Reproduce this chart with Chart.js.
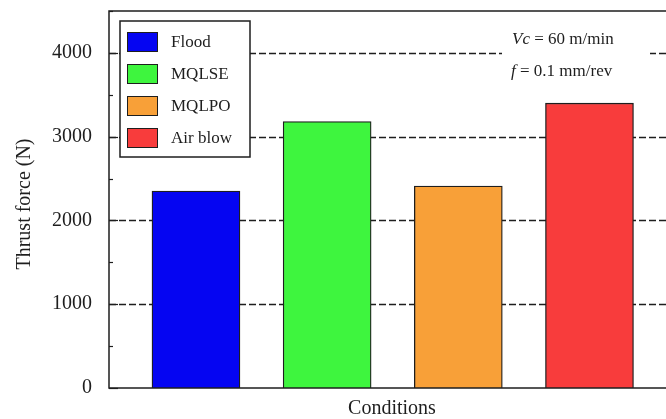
<!DOCTYPE html>
<html>
<head>
<meta charset="utf-8">
<script src="https://cdn.jsdelivr.net/npm/chart.js@4/dist/chart.umd.min.js"></script>
<style>
html,body{margin:0;padding:0;background:#fff;overflow:hidden;}
#wrap{width:666px;height:419px;overflow:hidden;position:relative;}
canvas{display:block;}
</style>
</head>
<body>
<div id="wrap"><canvas id="c" width="680" height="419" style="width:680px;height:419px"></canvas></div>
<script>
// ---- data ----
const categories = ['Flood', 'MQLSE', 'MQLPO', 'Air blow'];
const thrustForce = [2350, 3180, 2410, 3400];
const barColors = ['#0505f2', '#3ef53e', '#f8a038', '#f83c3c'];
const yTickValues = [0, 1000, 2000, 3000, 4000];
const yAxisTitle = 'Thrust force (N)';
const xAxisTitle = 'Conditions';
const noteLine1 = ['Vc', ' = 60 m/min'];
const noteLine2 = ['f', ' = 0.1 mm/rev'];

const SERIF = '"Liberation Serif", "DejaVu Serif", serif';
const INK = '#1e1e1e';

const decorPlugin = {
  id: 'decor',
  beforeDatasetsDraw(chart) {
    const ctx = chart.ctx, a = chart.chartArea, y = chart.scales.y;
    ctx.save();
    ctx.strokeStyle = INK;
    ctx.lineWidth = 1.3;
    ctx.setLineDash([7, 3]);
    y.ticks.forEach(t => {
      if (t.value > 0 && yTickValues.includes(t.value)) {
        const py = Math.round(y.getPixelForValue(t.value)) + 0.5;
        ctx.beginPath(); ctx.moveTo(a.left, py); ctx.lineTo(a.right, py); ctx.stroke();
      }
    });
    ctx.restore();
  },
  afterDatasetsDraw(chart) {
    const ctx = chart.ctx, a = chart.chartArea, y = chart.scales.y;
    ctx.save();
    ctx.strokeStyle = INK; ctx.lineWidth = 1.5; ctx.setLineDash([]);
    ctx.strokeRect(a.left, a.top, a.right - a.left, a.bottom - a.top);
    ctx.lineWidth = 1.2;
    y.ticks.forEach(t => {
      const py = Math.round(y.getPixelForValue(t.value)) + 0.5;
      const len = yTickValues.includes(t.value) ? 9 : 4;
      ctx.beginPath(); ctx.moveTo(a.left, py); ctx.lineTo(a.left + len, py); ctx.stroke();
    });

    // legend box
    const lx = 120, ly = 21, lw = 130, lh = 136;
    ctx.fillStyle = '#fff';
    ctx.fillRect(lx, ly, lw, lh);
    ctx.lineWidth = 1.5; ctx.strokeStyle = INK;
    ctx.strokeRect(lx, ly, lw, lh);
    ctx.font = '17px ' + SERIF;
    ctx.textBaseline = 'middle'; ctx.textAlign = 'left';
    categories.forEach((name, i) => {
      const cy = 42 + i * 32;
      ctx.fillStyle = barColors[i];
      ctx.fillRect(127, cy - 10, 31, 20);
      ctx.lineWidth = 1; ctx.strokeStyle = INK;
      ctx.strokeRect(127.5, cy - 9.5, 30, 19);
      ctx.fillStyle = INK;
      ctx.fillText(name, 171, cy + 1);
    });

    // annotation box
    ctx.fillStyle = '#fff';
    ctx.fillRect(502, 24, 148, 62);
    const drawMixed = (parts, x, cy) => {
      ctx.fillStyle = INK;
      ctx.font = 'italic 17px ' + SERIF;
      ctx.fillText(parts[0], x, cy);
      const w = ctx.measureText(parts[0]).width;
      ctx.font = '17px ' + SERIF;
      ctx.fillText(parts[1], x + w, cy);
    };
    drawMixed(noteLine1, 512, 40);
    drawMixed(noteLine2, 511, 72);

    // axis titles
    ctx.fillStyle = INK;
    ctx.font = '20px ' + SERIF;
    ctx.textAlign = 'center';
    ctx.textBaseline = 'middle';
    ctx.fillText(xAxisTitle, 392, 409);
    ctx.save();
    ctx.translate(25, 204);
    ctx.rotate(-Math.PI / 2);
    ctx.fillText(yAxisTitle, 0, 0);
    ctx.restore();
    ctx.restore();
  }
};

new Chart(document.getElementById('c'), {
  type: 'bar',
  data: {
    labels: categories,
    datasets: [{
      data: thrustForce.map((v, i) => ({ x: i + 1, y: v })),
      backgroundColor: barColors,
      borderColor: INK,
      borderWidth: 1.3,
      barThickness: 88,
      grouped: false
    }]
  },
  options: {
    responsive: false,
    animation: false,
    devicePixelRatio: 1,
    layout: { autoPadding: false, padding: { top: 11, right: 5, left: 0, bottom: 0 } },
    plugins: { legend: { display: false }, tooltip: { enabled: false } },
    scales: {
      x: {
        type: 'linear',
        offset: false,
        min: 0.337,
        max: 4.652,
        grid: { display: false, offset: false },
        border: { display: false },
        ticks: { display: false },
        afterFit(s) { s.height = 31; s.paddingLeft = 0; s.paddingRight = 0; }
      },
      y: {
        min: 0,
        max: 4500,
        grid: { display: false, drawTicks: false },
        border: { display: false },
        ticks: {
          stepSize: 500,
          padding: 17,
          color: INK,
          font: { family: SERIF, size: 20 },
          callback: v => yTickValues.includes(v) ? String(v) : ''
        },
        afterFit(s) { s.width = 109; s.paddingTop = 0; s.paddingBottom = 0; }
      }
    }
  },
  plugins: [decorPlugin]
});
</script>
</body>
</html>
